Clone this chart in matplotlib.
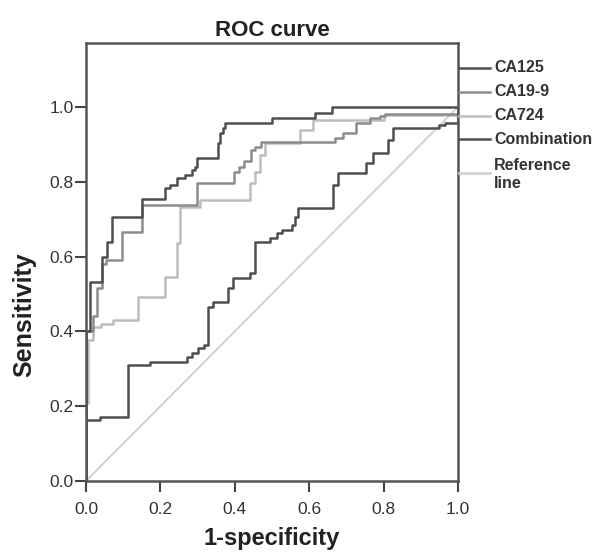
import matplotlib
matplotlib.use("Agg")
import matplotlib.pyplot as plt
from matplotlib.lines import Line2D

plt.rcParams['font.family'] = ['Liberation Sans', 'DejaVu Sans']

# ROC step vertices (1-specificity, sensitivity)
combo_x = [0, 0, 0.011, 0.042, 0.056, 0.069, 0.150, 0.212, 0.226, 0.244, 0.266, 0.284,
           0.293, 0.298, 0.356, 0.360, 0.369, 0.374, 0.383, 0.500, 0.615, 0.660, 1.0]
combo_y = [0, 0.400, 0.533, 0.600, 0.640, 0.707, 0.753, 0.783, 0.791, 0.809, 0.818, 0.832,
           0.840, 0.863, 0.903, 0.930, 0.943, 0.956, 0.956, 0.970, 0.983, 1.0, 1.0]

ca125_x = [0, 0, 0.038, 0.114, 0.172, 0.271, 0.284, 0.302, 0.318, 0.327, 0.342, 0.383,
           0.396, 0.441, 0.454, 0.495, 0.513, 0.526, 0.553, 0.562, 0.571, 0.665, 0.678,
           0.754, 0.772, 0.813, 0.826, 0.950, 0.965, 1.0, 1.0]
ca125_y = [0, 0.163, 0.172, 0.310, 0.319, 0.332, 0.341, 0.355, 0.364, 0.466, 0.479, 0.515,
           0.542, 0.555, 0.640, 0.649, 0.662, 0.671, 0.684, 0.707, 0.729, 0.791, 0.823,
           0.849, 0.876, 0.912, 0.943, 0.952, 0.956, 0.956, 1.0]

ca199_x = [0, 0, 0.020, 0.030, 0.042, 0.055, 0.096, 0.150, 0.298, 0.398, 0.410, 0.425,
           0.443, 0.454, 0.470, 0.670, 0.690, 0.727, 0.763, 0.790, 0.805, 1.0, 1.0]
ca199_y = [0, 0.400, 0.440, 0.515, 0.580, 0.590, 0.667, 0.738, 0.796, 0.827, 0.840, 0.856,
           0.885, 0.894, 0.905, 0.916, 0.930, 0.956, 0.970, 0.975, 0.982, 0.982, 1.0]

ca724_x = [0, 0.005, 0.020, 0.040, 0.073, 0.141, 0.212, 0.244, 0.253, 0.306, 0.441, 0.454,
           0.468, 0.481, 0.575, 0.610, 0.800, 1.0, 1.0]
ca724_y = [0.209, 0.377, 0.413, 0.420, 0.430, 0.493, 0.546, 0.637, 0.733, 0.751, 0.796, 0.827,
           0.872, 0.903, 0.939, 0.965, 0.978, 0.978, 1.0]

ref_x = [0, 1]
ref_y = [0, 1]

legend_labels = ['CA125', 'CA19-9', 'CA724', 'Combination', 'Reference\nline']

dark = '#4f4f4f'
mid = '#8c8c8c'
light = '#bdbdbd'
refc = '#cfcfcf'

fig = plt.figure(figsize=(5.99, 5.54), dpi=100)
ax = fig.add_axes([0.1436, 0.1318, 0.6210, 0.7906])

ax.plot(ref_x, ref_y, color=refc, lw=1.3)
ax.plot([0] + ca724_x, [0] + ca724_y, color=light, lw=1.8, drawstyle='steps-post')
ax.plot(ca199_x, ca199_y, color=mid, lw=1.8, drawstyle='steps-post')
ax.plot(ca125_x, ca125_y, color=dark, lw=1.8, drawstyle='steps-post')
ax.plot(combo_x, combo_y, color=dark, lw=1.8, drawstyle='steps-post')

ax.set_xlim(0, 1.0)
ax.set_ylim(0, 1.171)
ax.set_xticks([0, 0.2, 0.4, 0.6, 0.8, 1.0])
ax.set_yticks([0, 0.2, 0.4, 0.6, 0.8, 1.0])
ax.set_xticklabels(['0.0', '0.2', '0.4', '0.6', '0.8', '1.0'])
ax.set_yticklabels(['0.0', '0.2', '0.4', '0.6', '0.8', '1.0'])
ax.tick_params(direction='out', length=8, width=1.5, color='#444444',
               labelsize=12.5, labelcolor='#333333')
ax.tick_params(axis='x', pad=7)
ax.tick_params(axis='y', pad=1)
for s in ax.spines.values():
    s.set_color('#555555')
    s.set_linewidth(1.8)

ax.set_xlabel('1-specificity', fontsize=17, fontweight='bold', color='#222222', labelpad=7)
ax.set_ylabel('Sensitivity', fontsize=18, fontweight='bold', color='#222222')
ax.yaxis.set_label_coords(-0.134, 0.38)
ax.set_title('ROC curve', fontsize=16, fontweight='bold', color='#222222', pad=5)

# legend drawn to the right of the frame, attached to the spine
leg_colors = [dark, mid, light, dark, refc]
leg_y = [68, 92, 116, 139, 173]
for lab, c, yp in zip(legend_labels, leg_colors, leg_y):
    yf = 1 - yp / 554
    fig.add_artist(Line2D([459 / 599, 490 / 599], [yf, yf], color=c, lw=1.8))
    if '\n' in lab:
        fig.text(494 / 599, 1 - 158 / 554, lab, fontsize=11.5, fontweight='bold',
                 color='#333333', va='top', ha='left', linespacing=1.25)
    else:
        fig.text(494 / 599, yf, lab, fontsize=11.5, fontweight='bold',
                 color='#333333', va='center', ha='left')

fig.savefig('out.png', dpi=100)
